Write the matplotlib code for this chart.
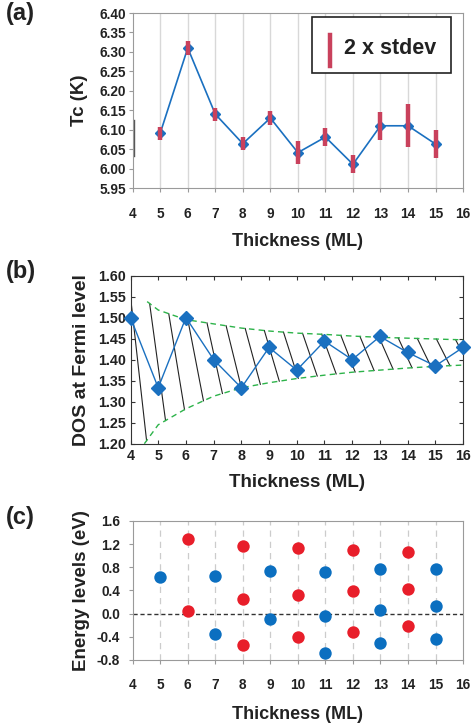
import matplotlib.pyplot as plt
import numpy as np

plt.rcParams["font.family"] = ["Liberation Sans", "DejaVu Sans"]
plt.rcParams["font.weight"] = "bold"

# ---------- data ----------
# (a) Tc vs thickness
tc_x = [5, 6, 7, 8, 9, 10, 11, 12, 13, 14, 15]
tc_y = [6.091, 6.310, 6.140, 6.064, 6.130, 6.041, 6.081, 6.011, 6.110, 6.110, 6.063]
tc_err = [0.017, 0.017, 0.017, 0.017, 0.018, 0.029, 0.023, 0.023, 0.036, 0.055, 0.036]

# (b) DOS at Fermi level
dos_x = [4, 5, 6, 7, 8, 9, 10, 11, 12, 13, 14, 15, 16]
dos_y = [1.500, 1.333, 1.500, 1.400, 1.333, 1.429, 1.375, 1.444, 1.400, 1.455, 1.417, 1.385, 1.429]

env_up_x = [4.6, 5, 6, 7, 8, 9, 10, 11, 12, 13, 14, 15, 16]
env_up_y = [1.538, 1.518, 1.495, 1.485, 1.475, 1.468, 1.463, 1.460, 1.456, 1.453, 1.451, 1.449, 1.447]
env_lo_x = [4.5, 5, 6, 7, 8, 9, 10, 11, 12, 13, 14, 15, 16]
env_lo_y = [1.200, 1.245, 1.283, 1.313, 1.333, 1.345, 1.355, 1.363, 1.370, 1.375, 1.380, 1.384, 1.387]

# (c) energy levels
blue_x = [5, 7, 7, 9, 9, 11, 11, 11, 13, 13, 13, 15, 15, 15]
blue_y = [0.639, 0.656, -0.345, 0.737, -0.098, 0.714, -0.040, -0.679,
          0.771, 0.058, -0.501, 0.771, 0.138, -0.432]
red_x = [6, 6, 8, 8, 8, 10, 10, 10, 12, 12, 12, 14, 14, 14]
red_y = [1.289, 0.052, 1.174, 0.259, -0.547, 1.140, 0.322, -0.409,
         1.099, 0.386, -0.322, 1.065, 0.426, -0.207]

xticks = list(range(4, 17))

BLUE = "#1a70c0"
GRAY = "#9a9a9a"
TXT = "#222222"
tick_font = 9.8
label_font = 13

fig = plt.figure(figsize=(4.72, 7.27), dpi=100)

# ---------- (a) ----------
ax1 = fig.add_axes([0.2811, 0.7414, 0.700, 0.2407])
for xv in xticks[1:-1]:
    ax1.axvline(xv, color="#d8d8d8", lw=1.0, zorder=0)
ax1.plot(tc_x, tc_y, color=BLUE, lw=1.2, marker="D", ms=5, mfc=BLUE, mec=BLUE, zorder=2)
ax1.errorbar(tc_x, tc_y, yerr=tc_err, fmt="none", ecolor="#c9415c", elinewidth=3.2, capsize=0, zorder=3)
ax1.plot([4.03, 4.03], [6.033, 6.125], color="#555555", lw=1.0, clip_on=False)
ax1.set_xlim(4, 16)
ax1.set_ylim(5.95, 6.40)
ax1.set_xticks(xticks)
ax1.set_yticks(np.arange(5.95, 6.401, 0.05))
ax1.set_yticklabels(["%.2f" % v for v in np.arange(5.95, 6.401, 0.05)])
for s in ax1.spines.values():
    s.set_color(GRAY)
ax1.tick_params(axis="both", colors=GRAY, labelcolor=TXT, labelsize=tick_font, length=3)
ax1.tick_params(axis="x", pad=11)
ax1.tick_params(axis="y", pad=2)
ax1.set_xlabel("Thickness (ML)", fontsize=label_font, fontweight="bold", labelpad=8, color=TXT)
ax1.set_ylabel("Tc (K)", fontsize=label_font + 0.5, fontweight="bold", labelpad=8, color=TXT)

# legend box drawn by hand
leg = plt.Rectangle((0.542, 0.657), 0.422, 0.32, transform=ax1.transAxes,
                    fill=True, fc="white", ec=TXT, lw=1.2, zorder=4)
ax1.add_patch(leg)
ax1.plot([0.597, 0.597], [0.70, 0.875], transform=ax1.transAxes, color="#c9415c", lw=3.2, zorder=5)
ax1.text(0.64, 0.80, "2 x stdev", transform=ax1.transAxes, fontsize=15.5, fontweight="bold",
         va="center", ha="left", color=TXT, zorder=5)

# ---------- (b) ----------
ax2 = fig.add_axes([0.2765, 0.3897, 0.7045, 0.2313])
# hatch lines between envelopes
starts = np.arange(4.0, 16.0, 0.69)
for xs in starts:
    xe = xs + 0.58 - 0.1 * (xs - 4) / 12
    ys = np.interp(xs, env_up_x, env_up_y, left=1.55)
    ye = np.interp(xe, env_lo_x, env_lo_y, left=1.05)
    ax2.plot([xs, xe], [ys, ye], color=TXT, lw=0.8, zorder=1)
ax2.plot(env_up_x, env_up_y, color="#2db34a", lw=1.0, ls=(0, (4, 3)), zorder=2)
ax2.plot(env_lo_x, env_lo_y, color="#2db34a", lw=1.0, ls=(0, (4, 3)), zorder=2)
ax2.plot(dos_x, dos_y, color=BLUE, lw=1.0, marker="D", ms=7, mfc=BLUE, mec=BLUE, zorder=3, clip_on=False)
ax2.set_xlim(4, 16)
ax2.set_ylim(1.20, 1.60)
ax2.set_xticks(xticks)
ax2.set_yticks(np.arange(1.20, 1.601, 0.05))
ax2.set_yticklabels(["%.2f" % v for v in np.arange(1.20, 1.601, 0.05)])
for s in ax2.spines.values():
    s.set_color("#333333")
ax2.tick_params(axis="both", direction="in", top=True, right=True, length=3,
                labelsize=tick_font + 0.5, color="#333333", labelcolor=TXT)
ax2.tick_params(axis="x", pad=4)
ax2.tick_params(axis="y", pad=3)
ax2.set_xlabel("Thickness (ML)", fontsize=label_font + 0.5, fontweight="bold", labelpad=8, color=TXT)
ax2.set_ylabel("DOS at Fermi level", fontsize=label_font + 1, fontweight="bold", labelpad=6, color=TXT)

# ---------- (c) ----------
ax3 = fig.add_axes([0.2811, 0.0922, 0.700, 0.1912])
for xv in xticks[1:-1]:
    ax3.axvline(xv, color="#cccccc", lw=0.9, ls=(0, (5, 4)), zorder=0)
ax3.axhline(0, color="#333333", lw=1.0, ls=(0, (3, 2)), zorder=1)
ax3.scatter(blue_x, blue_y, s=80, color="#0b6fc0", zorder=3, lw=0)
ax3.scatter(red_x, red_y, s=80, color="#e81e2a", zorder=3, lw=0)
ax3.set_xlim(4, 16)
ax3.set_ylim(-0.8, 1.6)
ax3.set_xticks(xticks)
ax3.set_yticks(np.arange(-0.8, 1.61, 0.4))
ax3.set_yticklabels(["%.1f" % v if abs(v) > 1e-9 else "0.0" for v in np.arange(-0.8, 1.61, 0.4)])
for s in ax3.spines.values():
    s.set_color(GRAY)
ax3.tick_params(axis="both", colors=GRAY, labelcolor=TXT, labelsize=tick_font, length=3)
ax3.tick_params(axis="x", pad=10)
ax3.tick_params(axis="y", pad=6)
ax3.set_xlabel("Thickness (ML)", fontsize=label_font, fontweight="bold", labelpad=10, color=TXT)
ax3.set_ylabel("Energy levels (eV)", fontsize=label_font + 0.5, fontweight="bold", labelpad=5, color=TXT)

# panel labels
fig.text(0.012, 0.997, "(a)", fontsize=17, fontweight="bold", va="top", color=TXT)
fig.text(0.012, 0.643, "(b)", fontsize=17, fontweight="bold", va="top", color=TXT)
fig.text(0.012, 0.304, "(c)", fontsize=17, fontweight="bold", va="top", color=TXT)

fig.savefig("out.png", dpi=100)
